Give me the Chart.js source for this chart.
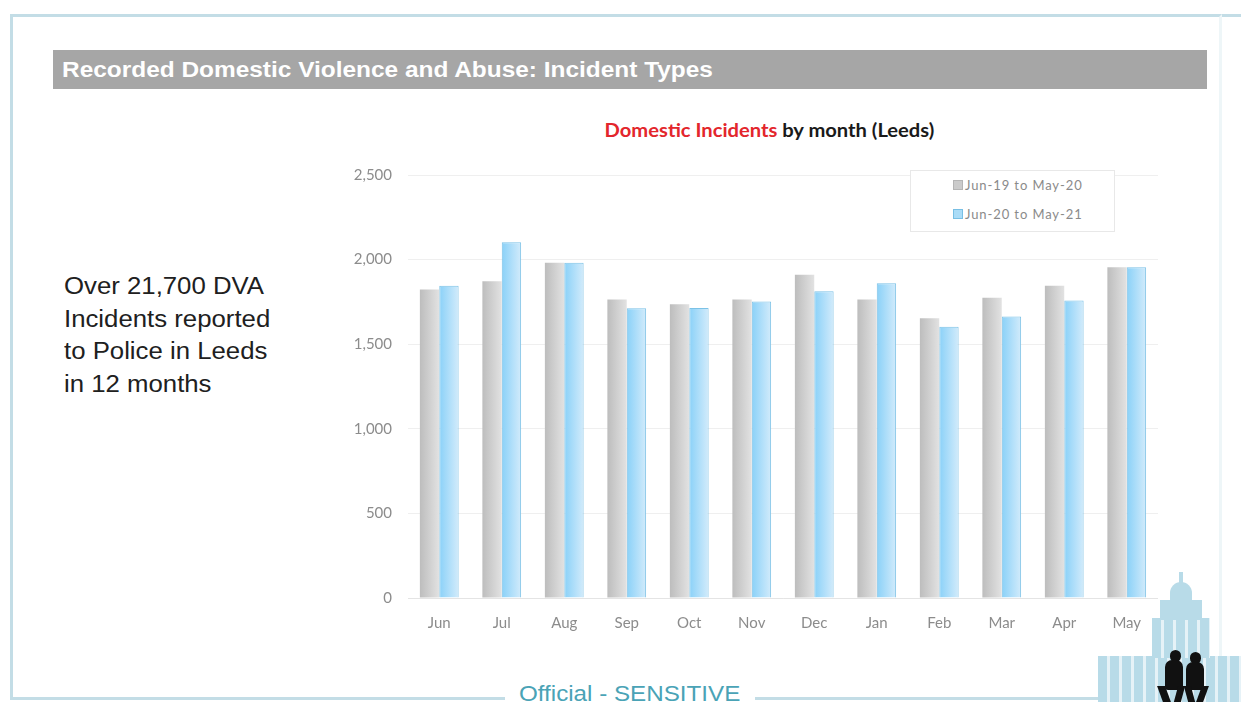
<!DOCTYPE html>
<html>
<head>
<meta charset="utf-8">
<script src="https://cdn.jsdelivr.net/npm/chart.js@4.4.1/dist/chart.umd.min.js"></script>
<style>
  body { margin: 0; width: 1241px; height: 702px; background: #fff; position: relative; overflow: hidden; font-family: "Liberation Sans", Arial, sans-serif; }
  .frame { position: absolute; left: 10px; top: 14px; width: 1212px; height: 686px; border: 3px solid #c3dde6; border-right-color: #eef6f8; box-sizing: border-box; }
  .topline { position: absolute; left: 1222px; top: 14px; width: 19px; height: 3px; background: #c3dde6; }
  .header { position: absolute; left: 53px; top: 50px; width: 1154px; height: 39px; background: #a6a6a6; }
  .header div { position: absolute; left: 9px; top: 0; color: #fff; font-weight: bold; font-size: 22px; line-height: 40px; white-space: nowrap; transform: scaleX(1.11); transform-origin: left center; }
  .title { position: absolute; left: 0; width: 1241px; top: 119px; text-align: center; padding-left: 298px; box-sizing: border-box; font-family: Lato, "Open Sans", sans-serif; font-weight: bold; font-size: 18px; color: #1a1a1a; transform: scaleX(1.12); transform-origin: 770px center; }
  .title span { color: #e3262c; }
  .note { position: absolute; left: 64px; top: 270px; font-size: 23px; line-height: 32.5px; color: #202020; white-space: nowrap; transform: scaleX(1.12); transform-origin: left top; }
  .foot { position: absolute; left: 505px; width: 250px; top: 682px; text-align: center; background: #fff; color: #4aa3b6; font-size: 22px; line-height: 24px; }
  .foot span { display: inline-block; transform: scaleX(1.1); }
  #box { position: absolute; left: 330px; top: 150px; width: 828px; height: 490px; }
  .legend { position: absolute; left: 910px; top: 170px; width: 205px; height: 62px; border: 1px solid #e8e8e8; background: #fff; font-family: Lato, "Open Sans", sans-serif; font-size: 13px; letter-spacing: 0.9px; color: #8a8a8a; box-sizing: border-box; padding: 7px 0 0 42px; }
  .legend div { height: 29px; line-height: 15px; white-space: nowrap; }
  .legend i { display: inline-block; width: 8px; height: 8px; margin-right: 2px; vertical-align: 0px; }
  .bld { position: absolute; background: #b8dbe8; }
  .cols { background: repeating-linear-gradient(90deg, #b8dbe8 0 9px, #e6f2f7 9px 12px); }
  .fig { position: absolute; background: #111; }
</style>
</head>
<body>
<div class="frame"></div>
<div class="topline"></div>
<div class="header"><div>Recorded Domestic Violence and Abuse: Incident Types</div></div>
<div class="title"><span>Domestic Incidents</span> by month (Leeds)</div>
<div class="note">Over 21,700 DVA<br>Incidents reported<br>to Police in Leeds<br>in 12 months</div>
<div id="box"><canvas id="chart"></canvas></div>
<div class="legend" id="legend"></div>
<div class="foot"><span>Official - SENSITIVE</span></div>
<!-- rough town hall silhouette with two walkers -->
<div class="bld cols" style="left:1098px;top:656px;width:143px;height:46px"></div>
<div class="bld cols" style="left:1152px;top:618px;width:58px;height:40px"></div>
<div class="bld" style="left:1160px;top:600px;width:42px;height:20px"></div>
<div class="bld" style="left:1170px;top:582px;width:22px;height:20px;border-radius:11px 11px 0 0"></div>
<div class="bld" style="left:1179px;top:572px;width:4px;height:12px"></div>
<div class="fig" style="left:1170px;top:650px;width:11px;height:12px;border-radius:6px"></div>
<div class="fig" style="left:1165px;top:660px;width:18px;height:30px;border-radius:7px 7px 3px 3px"></div>
<div class="fig" style="left:1160px;top:686px;width:8px;height:16px;transform:skewX(20deg)"></div>
<div class="fig" style="left:1176px;top:686px;width:7px;height:16px;transform:skewX(-15deg)"></div>
<div class="fig" style="left:1190px;top:652px;width:11px;height:12px;border-radius:6px"></div>
<div class="fig" style="left:1186px;top:662px;width:18px;height:28px;border-radius:7px 7px 3px 3px"></div>
<div class="fig" style="left:1186px;top:686px;width:7px;height:16px;transform:skewX(15deg)"></div>
<div class="fig" style="left:1199px;top:686px;width:7px;height:16px;transform:skewX(-20deg)"></div>

<script>
const months = ['Jun', 'Jul', 'Aug', 'Sep', 'Oct', 'Nov', 'Dec', 'Jan', 'Feb', 'Mar', 'Apr', 'May']
const labelPrev = 'Jun-19 to May-20'
const labelCurr = 'Jun-20 to May-21'
const prevYear = [1823, 1872, 1981, 1764, 1736, 1764, 1910, 1764, 1653, 1774, 1846, 1955]
const currYear = [1846, 2103, 1981, 1712, 1714, 1752, 1813, 1860, 1603, 1663, 1759, 1955]
const yTicks = [0, 500, 1000, 1500, 2000, 2500]

const catPct = 0.62

// horizontal shading across each bar, found from the x scale
function barShade(colLeft, colRight, side) {
  return (c) => {
    const xs = c.chart.scales.x
    if (!xs || !c.chart.chartArea) return colLeft
    const center = xs.getPixelForValue(c.dataIndex)
    const bw = (xs.width / months.length) * catPct / 2
    const x0 = side === 0 ? center - bw : center
    const g = c.chart.ctx.createLinearGradient(x0, 0, x0 + bw, 0)
    g.addColorStop(0, colLeft)
    g.addColorStop(1, colRight)
    return g
  }
}

const ctx = document.getElementById('chart').getContext('2d');
const myChart = new Chart(ctx, {
  type: 'bar',
  data: {
    labels: months,
    datasets: [{
      label: labelPrev,
      data: prevYear,
      swatch: '#cbcbcb',
      swatchBorder: '#b5b5b5',
      backgroundColor: barShade('#bdbdbd', '#e2e2e2', 0),
      borderWidth: 0,
      categoryPercentage: catPct,
      barPercentage: 1.0
    }, {
      label: labelCurr,
      data: currYear,
      swatch: '#aadcf7',
      swatchBorder: '#78bfe4',
      backgroundColor: barShade('#8ad1f8', '#d2ebfb', 1),
      borderColor: '#7cc2e6',
      borderWidth: 1,
      categoryPercentage: catPct,
      barPercentage: 1.0
    }]
  },
  options: {
    responsive: true,
    maintainAspectRatio: false,
    animation: false,
    layout: { padding: { top: 4, right: 0, left: 0, bottom: 0 } },
    plugins: {
      legend: { display: false },
      tooltip: { enabled: false }
    },
    scales: {
      x: {
        grid: { display: false },
        border: { color: '#e4e4e4' },
        ticks: { color: '#8c8c8c', font: { family: 'Lato', size: 15 }, padding: 8 }
      },
      y: {
        min: 0,
        max: 2500,
        afterFit: (scale) => { scale.width = 78 },
        afterBuildTicks: (scale) => { scale.ticks = yTicks.map(v => ({ value: v })) },
        grid: { color: '#efefef', drawTicks: false },
        border: { display: false },
        ticks: {
          color: '#8c8c8c',
          font: { family: 'Lato', size: 15 },
          padding: 16,
          callback: (v) => v.toLocaleString('en-GB')
        }
      }
    }
  }
});

// legend built from the datasets
const lg = document.getElementById('legend')
myChart.data.datasets.forEach(ds => {
  const row = document.createElement('div')
  row.innerHTML = '<i style="background:' + ds.swatch + ';border:1px solid ' + ds.swatchBorder + '"></i>' + ds.label
  lg.appendChild(row)
})
</script>
</body>
</html>
